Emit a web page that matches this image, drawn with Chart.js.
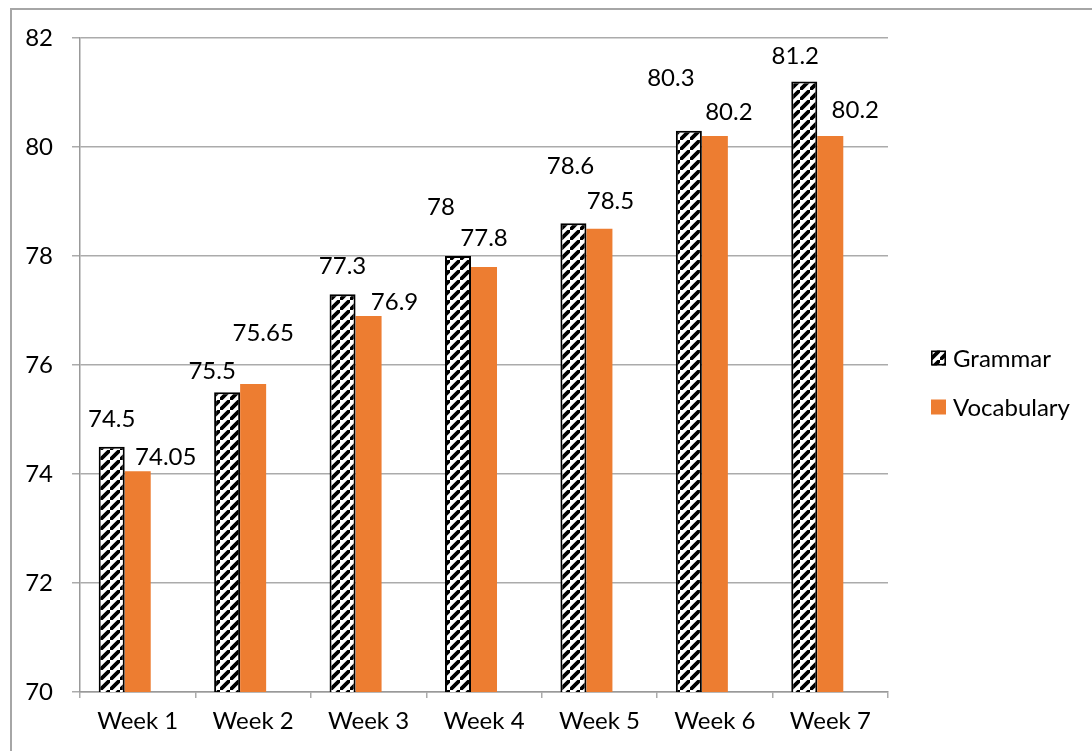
<!DOCTYPE html>
<html>
<head>
<meta charset="utf-8">
<title>Grammar and Vocabulary</title>
<script src="https://cdn.jsdelivr.net/npm/chart.js@4.4.1/dist/chart.umd.min.js"></script>
<style>
    html, body {
        margin: 0;
        padding: 0;
        background: #fff;
        overflow: hidden;
    }
    #frame {
        position: absolute;
        left: 10px;
        top: 8px;
        width: 1200px;
        height: 900px;
        border-top: 2px solid #a6a6a6;
        border-left: 2px solid #a6a6a6;
    }
    #wrap {
        position: absolute;
        left: 0;
        top: 0;
        width: 1092px;
        height: 751px;
    }
</style>
</head>
<body>
<div id="frame"></div>
<div id="wrap"><canvas id="scoreChart"></canvas></div>
<script>
// Dữ liệu điểm theo tuần
const weeks = ['Week 1', 'Week 2', 'Week 3', 'Week 4', 'Week 5', 'Week 6', 'Week 7'];
const grammarScores = [74.5, 75.5, 77.3, 78, 78.6, 80.3, 81.2];
const vocabularyScores = [74.05, 75.65, 76.9, 77.8, 78.5, 80.2, 80.2];
const yTicks = [70, 72, 74, 76, 78, 80, 82];

// Độ lệch nhãn giá trị so với đỉnh cột (px)
const grammarLabelShift = [[0, -27], [-15, -21], [0, -28], [-17, -49], [-3, -57], [-18, -52], [-9, -25]];
const vocabularyLabelShift = [[28, -14], [10, -51], [26, -14], [0, -29], [11, -27], [14, -24], [25, -26]];

const ORANGE = '#ED7D31';
const GRID = '#ababab';
const FONT = 'Lato, "Liberation Sans", sans-serif';
const FONT_SIZE = 24;

let scoreChart;

// Tạo mẫu sọc chéo cho cột Grammar
function makeHatch() {
    const size = 10;
    const c = document.createElement('canvas');
    c.width = size;
    c.height = size;
    const g = c.getContext('2d');
    g.fillStyle = '#fff';
    g.fillRect(0, 0, size, size);
    g.strokeStyle = '#000';
    g.lineWidth = 3.8;
    g.beginPath();
    g.moveTo(-size, size * 2);
    g.lineTo(size * 2, -size);
    g.moveTo(-size * 2, size);
    g.lineTo(size, -size * 2);
    g.moveTo(0, size * 3);
    g.lineTo(size * 3, 0);
    g.stroke();
    return g.createPattern(c, 'repeat');
}

// Vẽ nhãn giá trị cạnh mỗi cột
const valueLabels = {
    id: 'valueLabels',
    afterDatasetsDraw(chart) {
        const ctx = chart.ctx;
        const shifts = [grammarLabelShift, vocabularyLabelShift];
        ctx.save();
        ctx.font = FONT_SIZE + 'px ' + FONT;
        ctx.fillStyle = '#000';
        ctx.textAlign = 'center';
        ctx.textBaseline = 'middle';
        shifts.forEach((shift, di) => {
            const meta = chart.getDatasetMeta(di);
            const values = chart.data.datasets[di].data;
            meta.data.forEach((bar, i) => {
                const [dx, dy] = shift[i];
                ctx.fillText(String(values[i]), bar.x + dx, bar.y + dy);
            });
        });
        ctx.restore();
    }
};

// Chú thích bên phải vùng biểu đồ
const sideLegend = {
    id: 'sideLegend',
    afterDraw(chart) {
        const ctx = chart.ctx;
        const area = chart.chartArea;
        const mid = (area.top + area.bottom) / 2;
        const boxX = area.right + 43;
        const rows = [mid - 7, mid + 42];
        ctx.save();
        ctx.font = FONT_SIZE + 'px ' + FONT;
        ctx.textBaseline = 'middle';
        ctx.textAlign = 'left';
        [0, 1].forEach((di, k) => {
            const ds = chart.data.datasets[di];
            const y = rows[k];
            ctx.fillStyle = ds.backgroundColor;
            ctx.fillRect(boxX, y - 7.5, 15, 15);
            if (ds.borderWidth) {
                ctx.strokeStyle = ds.borderColor;
                ctx.lineWidth = 1.6;
                ctx.strokeRect(boxX + 0.8, y - 6.7, 13.4, 13.4);
            }
            ctx.fillStyle = '#000';
            ctx.fillText(ds.label, boxX + 22, y + 1);
        });
        ctx.restore();
    }
};

function drawScoreChart() {
    const ctx = document.getElementById('scoreChart').getContext('2d');
    if (scoreChart) {
        scoreChart.destroy();
    }

    Chart.defaults.font.family = FONT;
    Chart.defaults.font.size = FONT_SIZE;
    Chart.defaults.color = '#000';

    scoreChart = new Chart(ctx, {
        type: 'bar',
        data: {
            labels: weeks,
            datasets: [{
                label: 'Grammar',
                data: grammarScores,
                backgroundColor: makeHatch(),
                borderColor: '#000',
                borderWidth: 2,
                borderSkipped: false
            }, {
                label: 'Vocabulary',
                data: vocabularyScores,
                backgroundColor: ORANGE,
                borderWidth: 0
            }, {
                // chuỗi rỗng giữ chỗ thứ ba trong mỗi nhóm
                label: '',
                data: weeks.map(() => null),
                backgroundColor: 'rgba(0,0,0,0)',
                borderWidth: 0
            }]
        },
        options: {
            responsive: true,
            maintainAspectRatio: false,
            animation: false,
            categoryPercentage: 0.676,
            barPercentage: 1,
            layout: {
                padding: { left: 20, top: 38, right: 204, bottom: 0 }
            },
            scales: {
                x: {
                    grid: {
                        display: true,
                        drawOnChartArea: false,
                        drawTicks: true,
                        tickLength: 6,
                        color: GRID,
                        lineWidth: 1.5
                    },
                    border: { display: true, color: '#999', width: 1.5 },
                    ticks: { padding: 9, maxRotation: 0 },
                    afterFit(scale) {
                        scale.height = 59;
                    }
                },
                y: {
                    min: 70,
                    max: 82,
                    afterBuildTicks(scale) {
                        scale.ticks = yTicks.map(v => ({ value: v }));
                    },
                    grid: {
                        color: GRID,
                        lineWidth: 1.5,
                        drawTicks: true,
                        tickLength: 8
                    },
                    border: { display: true, color: '#999', width: 1.5 },
                    ticks: { padding: 19 },
                    afterFit(scale) {
                        scale.width = 60;
                    }
                }
            },
            plugins: {
                legend: { display: false },
                tooltip: { enabled: false }
            }
        },
        plugins: [valueLabels, sideLegend]
    });
}

document.addEventListener('DOMContentLoaded', function() {
    drawScoreChart();
});
</script>
</body>
</html>
